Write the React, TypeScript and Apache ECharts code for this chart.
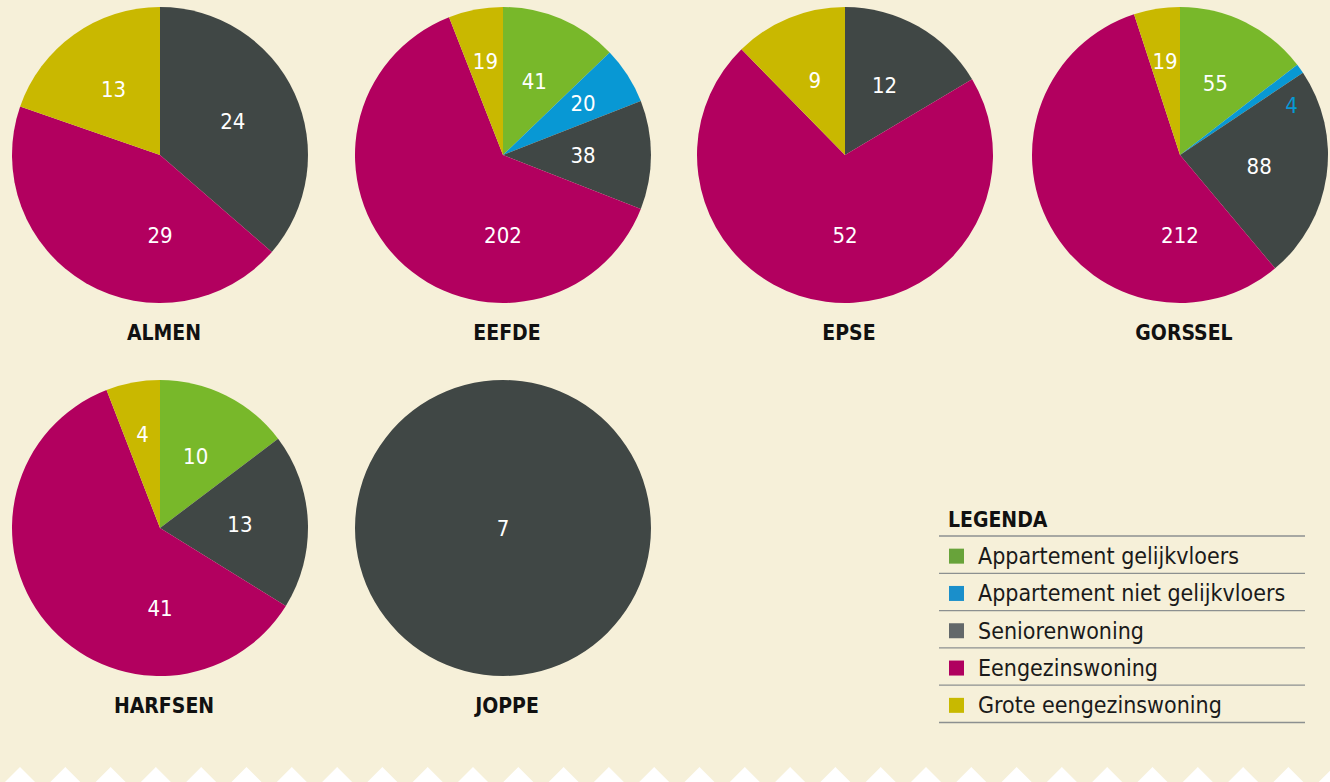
import React, { useEffect, useRef } from "react";
import * as echarts from "echarts";

const categories = [
  "Appartement gelijkvloers",
  "Appartement niet gelijkvloers",
  "Seniorenwoning",
  "Eengezinswoning",
  "Grote eengezinswoning",
];
const pieColors = ["#78b82a", "#0898d4", "#404745", "#b2005f", "#c9b800"];
const legendColors = ["#68a33a", "#1a8fcb", "#63686a", "#b0005f", "#c8b900"];

const places = ["ALMEN", "EEFDE", "EPSE", "GORSSEL", "HARFSEN", "JOPPE"];
const almen = [0, 0, 24, 29, 13];
const eefde = [41, 20, 38, 202, 19];
const epse = [0, 0, 12, 52, 9];
const gorssel = [55, 4, 88, 212, 19];
const harfsen = [10, 0, 13, 41, 4];
const joppe = [0, 0, 7, 0, 0];
const placeValues = [almen, eefde, epse, gorssel, harfsen, joppe];

const FONT = "'DejaVu Sans Condensed', 'Liberation Sans Narrow', 'DejaVu Sans', sans-serif";
const BG = "#f6f0d9";

export default function App() {
  const ref = useRef<HTMLDivElement>(null);
  useEffect(() => {
    if (!ref.current) return;
    const chart = echarts.init(ref.current, null, { renderer: "svg" });
    const R = 148;
    const centers = [
      [160, 155],
      [503, 155],
      [845, 155],
      [1180, 155],
      [160, 528],
      [503, 528],
    ];
    const series: any[] = placeValues.map((vals, si) => {
      const [cx, cy] = centers[si];
      const total = vals.reduce((a, b) => a + b, 0);
      let acc = 0;
      const data = vals
        .map((v, ci) => ({ v, ci }))
        .filter((d) => d.v > 0)
        .map((d) => {
          const start = (acc / total) * 360;
          acc += d.v;
          const end = (acc / total) * 360;
          const span = end - start;
          const small = d.v / total < 0.03;
          let ang = (start + end) / 2;
          let dist = span <= 40 ? 95 : 80;
          if (span > 150 && start < 180 && end > 180) {
            ang = 180;
            dist = 80;
          } else if (small) {
            ang = end + 10;
            dist = 122;
          }
          return {
            name: categories[d.ci],
            value: d.v,
            itemStyle: { color: pieColors[d.ci] },
            label: small ? { color: pieColors[d.ci] } : undefined,
            _ang: ang,
            _dist: dist,
          };
        });
      const single = data.length === 1;
      return {
        type: "pie",
        name: places[si],
        center: [cx, cy],
        radius: [0, R],
        startAngle: 90,
        clockwise: true,
        avoidLabelOverlap: false,
        silent: true,
        itemStyle: { borderWidth: 0 },
        label: {
          show: true,
          position: single ? "center" : "inside",
          formatter: "{c}",
          color: "#ffffff",
          fontSize: 22,
          fontFamily: FONT,
        },
        labelLine: { show: false },
        labelLayout: single
          ? undefined
          : (p: any) => {
              const item = data[p.dataIndex];
              if (!item) return {};
              const a = (item._ang * Math.PI) / 180;
              return {
                x: cx + item._dist * Math.sin(a),
                y: cy - item._dist * Math.cos(a),
                align: "center",
                verticalAlign: "middle",
              };
            },
        data,
      };
    });

    const graphics: any[] = [];
    places.forEach((p, i) => {
      const [cx, cy] = centers[i];
      graphics.push({
        type: "text",
        x: cx + 4,
        y: cy + R + 30,
        style: {
          text: p,
          fill: "#111111",
          font: `bold 21px ${FONT}`,
          align: "center",
          verticalAlign: "middle",
        },
      });
    });
    const lx0 = 939,
      lx1 = 1305;
    graphics.push({
      type: "text",
      x: 948,
      y: 520,
      style: {
        text: "LEGENDA",
        fill: "#111111",
        font: `bold 21px ${FONT}`,
        align: "left",
        verticalAlign: "middle",
      },
    });
    const lineYs = [536, 573.3, 610.6, 647.9, 685.2, 722.5];
    lineYs.forEach((y) => {
      graphics.push({
        type: "line",
        shape: { x1: lx0, y1: y, x2: lx1, y2: y },
        style: { stroke: "#8c9090", lineWidth: 1.3 },
      });
    });
    categories.forEach((c, i) => {
      const y = (lineYs[i] + lineYs[i + 1]) / 2 + 1.5;
      graphics.push({
        type: "rect",
        shape: { x: 949, y: y - 7.5, width: 15, height: 15 },
        style: { fill: legendColors[i] },
      });
      graphics.push({
        type: "text",
        x: 978,
        y,
        style: {
          text: c,
          fill: "#1a1a1a",
          font: `23px ${FONT}`,
          align: "left",
          verticalAlign: "middle",
        },
      });
    });
    for (let k = 0; k < 31; k++) {
      const ax = 20 + k * 45.3;
      graphics.push({
        type: "polygon",
        shape: { points: [[ax - 16, 783], [ax, 767], [ax + 16, 783]] },
        style: { fill: "#ffffff" },
      });
    }

    chart.setOption({
      animation: false,
      backgroundColor: BG,
      series,
      graphic: graphics,
    });
    return () => chart.dispose();
  }, []);
  return (
    <div
      ref={ref}
      style={{ position: "fixed", left: 0, top: 0, width: 1330, height: 782 }}
    />
  );
}
